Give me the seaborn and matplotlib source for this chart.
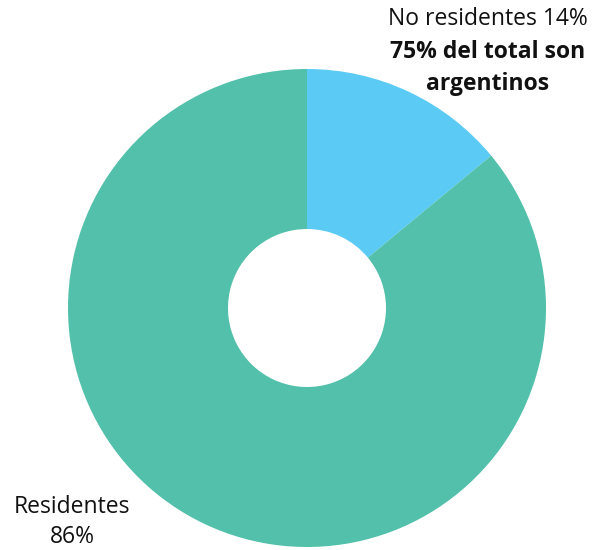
import matplotlib
matplotlib.use("Agg")
import matplotlib.pyplot as plt
import seaborn as sns

labels = ["No residentes", "Residentes"]
shares = [14, 86]
colors = ["#5BCBF5", "#52C0AA"]

sns.set_theme(style="white")
plt.rcParams["font.family"] = ["Open Sans", "DejaVu Sans"]

fig = plt.figure(figsize=(5.94, 5.50), dpi=100)
ax = fig.add_axes([0, 0, 1, 1])

# pixel-like data coords, y grows downward
cx, cy, r_out, r_in = 307, 308, 239, 79
ax.pie(shares, colors=colors, startangle=-90, counterclock=True,
       center=(cx, cy), radius=r_out, frame=True,
       wedgeprops=dict(width=r_out - r_in, linewidth=0))
ax.set_xlim(0, 594)
ax.set_ylim(550, 0)
ax.set_aspect("equal")
ax.axis("off")

fs = 16.5
ax.text(488, 19, f"{labels[0]} {shares[0]}%", ha="center", va="center", fontsize=fs, color="#111111")
ax.text(488, 68, "75% del total son\nargentinos", ha="center", va="center", fontsize=fs,
        fontweight="bold", color="#111111", linespacing=1.4)
ax.text(72, 522, f"{labels[1]}\n{shares[1]}%", ha="center", va="center", fontsize=fs,
        color="#111111", linespacing=1.35)

fig.savefig("out.png", dpi=100)
